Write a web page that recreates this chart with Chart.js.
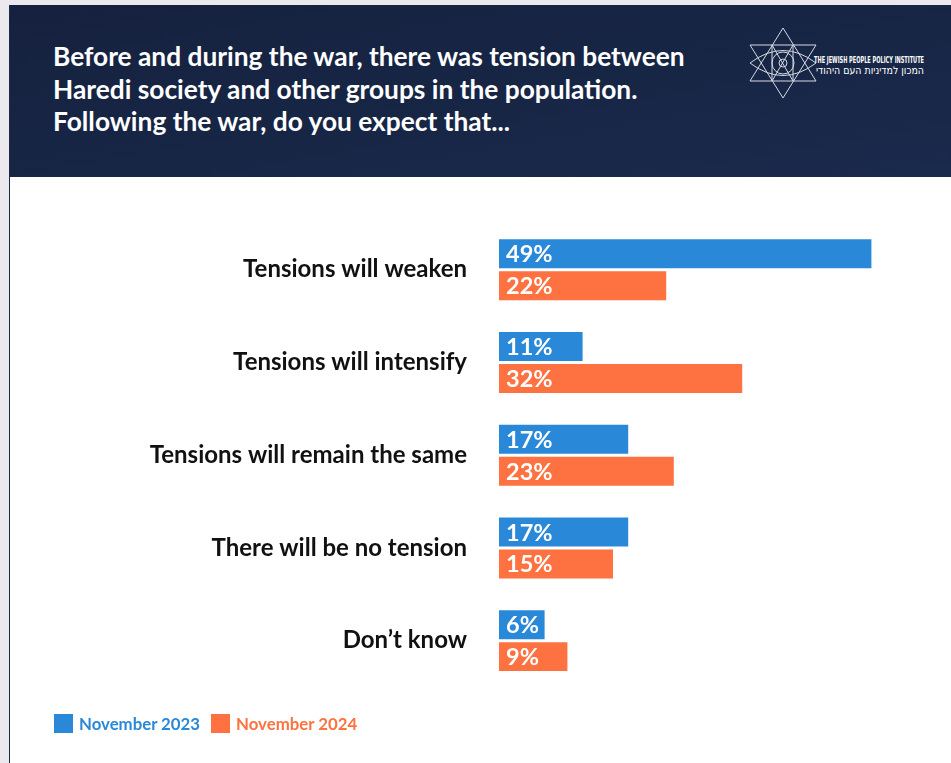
<!DOCTYPE html>
<html>
<head>
<meta charset="utf-8">
<script src="https://cdn.jsdelivr.net/npm/chart.js@4.4.1/dist/chart.umd.min.js"></script>
<style>
  html, body { margin: 0; padding: 0; }
  body { width: 951px; height: 763px; background: #ebe9ee; position: relative; overflow: hidden; font-family: Lato, sans-serif; }
  #panel { position: absolute; left: 9px; top: 5px; width: 942px; height: 758px; background: #fff; border-left: 1px solid #1b2a4a; box-sizing: border-box; }
  #header { position: absolute; left: 0; top: 0; width: 942px; height: 172px; background: linear-gradient(170deg, #15213e 0%, #1a2a4c 100%); }
  #title { position: absolute; left: 43px; top: 35px; color: #fff; font-weight: 700; font-size: 26.3px; line-height: 32.5px; }
  #logo { position: absolute; left: 711px; top: 8px; }
  #chartBox { position: absolute; left: 0px; top: 172px; width: 940px; height: 557px; }
  #legend { position: absolute; left: 44px; top: 708px; font-weight: 700; font-size: 16.8px; display: flex; align-items: center; }
  #legend .item { display: flex; align-items: center; margin-right: 11px; }
  #legend .sw { width: 19px; height: 19px; margin-right: 6px; }
</style>
</head>
<body>
<div id="panel">
  <div id="header">
    <div id="title">Before and during the war, there was tension between<br>Haredi society and other groups in the population.<br>Following the war, do you expect that...</div>
    <svg id="logo" width="215" height="90" viewBox="0 0 215 90">
      <g fill="none" stroke="#d5d9e2" stroke-width="1">
        <polygon points="62,15 29,68 95,68"/>
        <polygon points="29,32 95,32 62,85"/>
        <line x1="51" y1="32" x2="51" y2="68"/>
        <line x1="72" y1="32" x2="72" y2="68"/>
        <line x1="51" y1="32" x2="72" y2="68"/>
        <line x1="72" y1="32" x2="51" y2="68"/>
        <circle cx="62" cy="50" r="11"/>
        <circle cx="62" cy="50" r="4"/>
        <path d="M29,50 Q62,25 95,50 Q62,75 29,50 Z"/>
      </g>
      <text x="93" y="50" fill="#ffffff" font-family="'DejaVu Sans Condensed', 'Liberation Sans Narrow', sans-serif" font-size="9" font-weight="700" textLength="110" lengthAdjust="spacingAndGlyphs">THE JEWISH PEOPLE POLICY INSTITUTE</text>
      <text x="203" y="61" fill="#ffffff" font-family="'DejaVu Sans Condensed', 'DejaVu Sans', sans-serif" font-size="10.5" text-anchor="end">המכון למדיניות העם היהודי</text>
    </svg>
  </div>
  <div id="chartBox"><canvas id="chart"></canvas></div>
  <div id="legend"></div>
</div>
<script>
// survey answers, share of respondents (%)
const categories = [
  'Tensions will weaken',
  'Tensions will intensify',
  'Tensions will remain the same',
  'There will be no tension',
  'Don\u2019t know'
];
const seriesNames = ['November 2023', 'November 2024'];
const nov2023 = [49, 11, 17, 17, 6];
const nov2024 = [22, 32, 23, 15, 9];
const colors = ['#2a88d8', '#fd7240'];

// white value labels inside the left end of each bar
const barLabels = {
  id: 'barLabels',
  afterDatasetsDraw(chart) {
    const ctx = chart.ctx;
    ctx.save();
    ctx.font = '700 23.5px Lato, sans-serif';
    ctx.fillStyle = '#ffffff';
    ctx.textAlign = 'left';
    ctx.textBaseline = 'middle';
    chart.data.datasets.forEach((ds, i) => {
      chart.getDatasetMeta(i).data.forEach((bar, j) => {
        ctx.fillText(ds.data[j] + '%', bar.base + 7, bar.y + 1);
      });
    });
    ctx.restore();
  }
};

const ctx = document.getElementById('chart').getContext('2d');
const chart = new Chart(ctx, {
  type: 'bar',
  data: {
    labels: categories,
    datasets: [
      { label: seriesNames[0], data: nov2023, backgroundColor: colors[0] },
      { label: seriesNames[1], data: nov2024, backgroundColor: colors[1] }
    ]
  },
  options: {
    indexAxis: 'y',
    responsive: true,
    maintainAspectRatio: false,
    animation: false,
    categoryPercentage: 0.69,
    barPercentage: 0.906,
    layout: { padding: { top: 46, bottom: 47, left: 0, right: 71 } },
    scales: {
      x: { display: false, min: 0, max: 50 },
      y: {
        grid: { display: false, drawTicks: false },
        border: { display: false },
        ticks: {
          padding: 32,
          color: '#111111',
          font: { family: 'Lato, sans-serif', size: 24, weight: '700' }
        },
        afterFit(scale) { scale.width = 489; }
      }
    },
    plugins: {
      legend: { display: false },
      tooltip: { enabled: false }
    }
  },
  plugins: [barLabels]
});

// legend under the chart
const legend = document.getElementById('legend');
seriesNames.forEach((name, i) => {
  const item = document.createElement('div');
  item.className = 'item';
  item.innerHTML = '<span class="sw" style="background:' + colors[i] + '"></span>' +
    '<span style="color:' + colors[i] + '">' + name + '</span>';
  legend.appendChild(item);
});
</script>
</body>
</html>
